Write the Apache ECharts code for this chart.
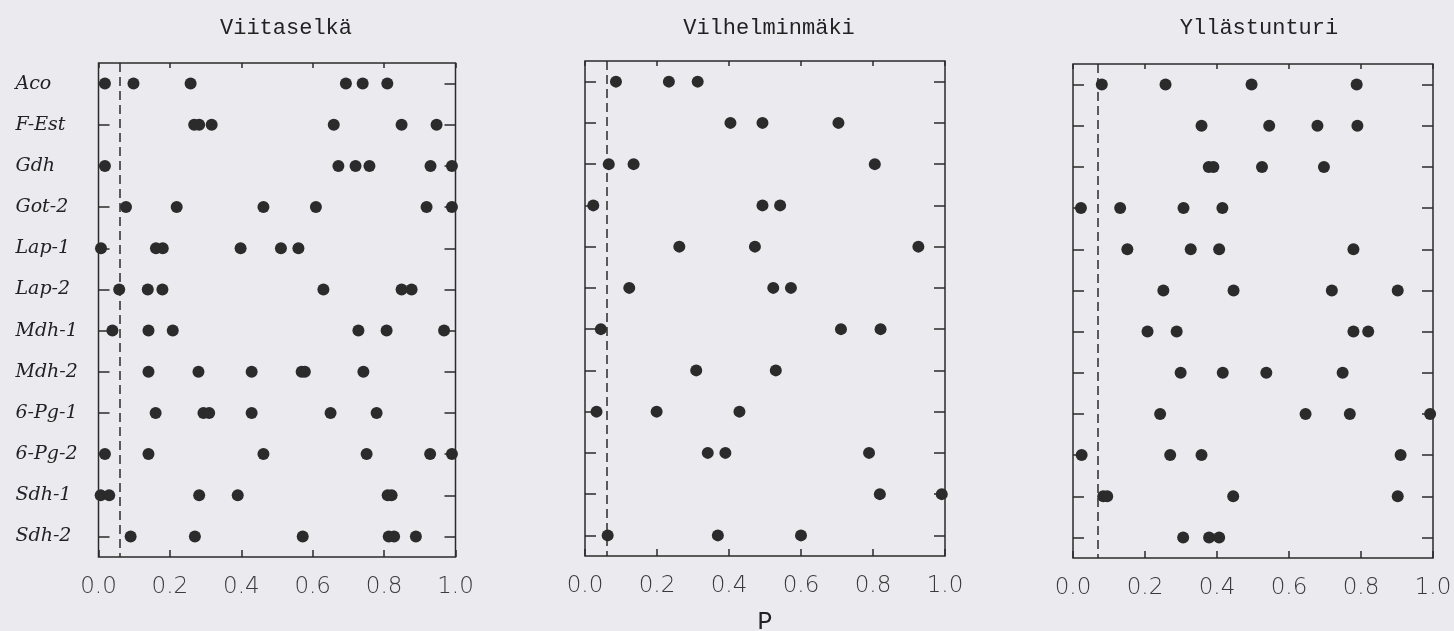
<!DOCTYPE html>
<html>
<head>
<meta charset="utf-8">
<script src="https://cdn.jsdelivr.net/npm/echarts@6/dist/echarts.min.js"></script>
<style>
html, body { margin: 0; padding: 0; background: #ebebef; }
#main { width: 1454px; height: 631px; }
</style>
</head>
<body>
<div id="main"></div>
<script>
var loci = ['Aco', 'F-Est', 'Gdh', 'Got-2', 'Lap-1', 'Lap-2', 'Mdh-1', 'Mdh-2', '6-Pg-1', '6-Pg-2', 'Sdh-1', 'Sdh-2'];
var sites = ['Viitaselkä', 'Vilhelminmäki', 'Yllästunturi'];
var cutoffs = [0.055, 0.06, 0.066];

// P values per locus, one list per site
var viitaselkaP = [
	[0.018, 0.098, 0.258, 0.693, 0.740, 0.809],
	[0.268, 0.282, 0.317, 0.659, 0.849, 0.947],
	[0.018, 0.672, 0.720, 0.759, 0.930, 0.990],
	[0.077, 0.219, 0.462, 0.609, 0.919, 0.990],
	[0.007, 0.161, 0.180, 0.398, 0.511, 0.560],
	[0.058, 0.138, 0.179, 0.630, 0.849, 0.877],
	[0.039, 0.140, 0.208, 0.728, 0.807, 0.968],
	[0.140, 0.280, 0.429, 0.569, 0.578, 0.742],
	[0.160, 0.294, 0.310, 0.429, 0.650, 0.779],
	[0.018, 0.140, 0.462, 0.751, 0.929, 0.990],
	[0.006, 0.030, 0.282, 0.390, 0.810, 0.821],
	[0.090, 0.270, 0.572, 0.813, 0.828, 0.889]
];
var vilhelminmakiP = [
	[0.086, 0.233, 0.313],
	[0.404, 0.493, 0.704],
	[0.066, 0.135, 0.805],
	[0.023, 0.493, 0.542],
	[0.262, 0.472, 0.926],
	[0.123, 0.523, 0.572],
	[0.044, 0.711, 0.821],
	[0.309, 0.530],
	[0.032, 0.199, 0.429],
	[0.341, 0.390, 0.789],
	[0.819, 0.991],
	[0.063, 0.369, 0.600]
];
var yllastunturiP = [
	[0.080, 0.257, 0.496, 0.788],
	[0.357, 0.545, 0.679, 0.790],
	[0.377, 0.390, 0.525, 0.697],
	[0.022, 0.131, 0.307, 0.415],
	[0.151, 0.327, 0.406, 0.779],
	[0.251, 0.446, 0.719, 0.902],
	[0.207, 0.288, 0.779, 0.820],
	[0.299, 0.416, 0.537, 0.749],
	[0.242, 0.646, 0.769, 0.992],
	[0.024, 0.270, 0.357, 0.910],
	[0.084, 0.095, 0.445, 0.902],
	[0.306, 0.378, 0.406]
];
var allP = [viitaselkaP, vilhelminmakiP, yllastunturiP];

var grids = [
	{ left: 98.5, top: 63, width: 357, height: 494 },
	{ left: 585, top: 61, width: 360, height: 495 },
	{ left: 1073, top: 64, width: 360, height: 494 }
];
var titleX = [281, 764, 1254];

var ink = '#2b2b2b';
var chart = echarts.init(document.getElementById('main'));

var option = {
	backgroundColor: '#ebebef',
	animation: false,
	title: [],
	grid: [],
	xAxis: [],
	yAxis: [],
	series: []
};

sites.forEach(function(site, g) {
	option.title.push({
		text: site,
		left: titleX[g],
		top: 12,
		textAlign: 'center',
		textStyle: { fontFamily: 'Liberation Mono', fontSize: 22, fontWeight: 'normal', color: '#222' }
	});
	option.grid.push({
		left: grids[g].left, top: grids[g].top, width: grids[g].width, height: grids[g].height,
		outerBoundsMode: 'none', containLabel: false,
		show: true, borderColor: ink, borderWidth: 1.5, backgroundColor: 'transparent'
	});
	// bottom axis with labels
	option.xAxis.push({
		gridIndex: g, type: 'value', min: 0, max: 1, interval: 0.2, position: 'bottom',
		axisLine: { show: false, onZero: false },
		axisTick: { show: true, inside: true, length: 7, lineStyle: { color: ink, width: 1.5 } },
		splitLine: { show: false },
		axisLabel: {
			margin: 19, color: '#3a3a3a', fontFamily: 'DejaVu Sans', fontWeight: 200, fontSize: 23,
			formatter: function(v) { return v.toFixed(1); }
		},
		name: g === 1 ? 'P' : '',
		nameLocation: 'middle', nameGap: 54,
		nameTextStyle: { fontFamily: 'Liberation Mono', fontSize: 25, color: '#222' }
	});
	// top axis, ticks only
	option.xAxis.push({
		gridIndex: g, type: 'value', min: 0, max: 1, interval: 0.2, position: 'top',
		axisLine: { show: false, onZero: false },
		axisTick: { show: true, inside: true, length: 5, lineStyle: { color: ink, width: 1.5 } },
		splitLine: { show: false },
		axisLabel: { show: false }
	});
	option.yAxis.push({
		gridIndex: g, type: 'category', data: loci, inverse: true, position: 'left',
		axisLine: { show: false, onZero: false },
		axisTick: { show: true, inside: true, alignWithLabel: true, length: 11, lineStyle: { color: ink, width: 1.5 } },
		axisLabel: {
			show: g === 0, align: 'left', margin: 83, color: '#222',
			fontFamily: 'DejaVu Serif', fontStyle: 'italic', fontSize: 19
		}
	});
	option.yAxis.push({
		gridIndex: g, type: 'category', data: loci, inverse: true, position: 'right',
		axisLine: { show: false, onZero: false },
		axisTick: { show: true, inside: true, alignWithLabel: true, length: 11, lineStyle: { color: ink, width: 1.5 } },
		axisLabel: { show: false }
	});

	var pts = [];
	allP[g].forEach(function(list, i) {
		list.forEach(function(p) { pts.push([p, loci[i]]); });
	});
	option.series.push({
		type: 'scatter',
		xAxisIndex: g * 2, yAxisIndex: g * 2,
		data: pts,
		symbolSize: 12,
		clip: false,
		itemStyle: { color: ink, opacity: 1 },
		markLine: {
			silent: true, symbol: 'none',
			label: { show: false },
			lineStyle: { color: ink, type: [9, 5], width: 1.5 },
			data: [{ xAxis: cutoffs[g] }]
		}
	});
});

chart.setOption(option);
</script>
</body>
</html>
